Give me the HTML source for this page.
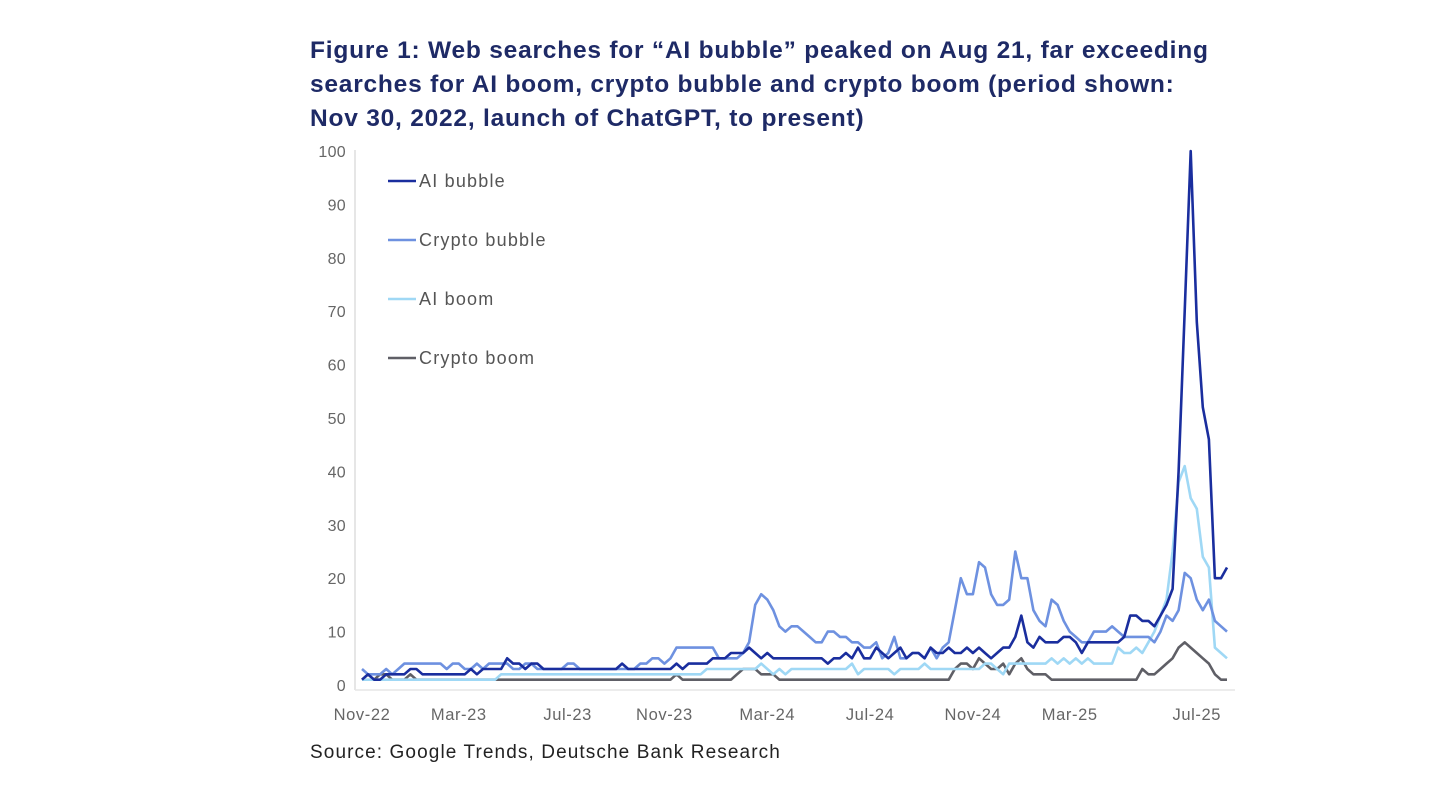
<!DOCTYPE html>
<html><head><meta charset="utf-8">
<style>
body{margin:0;background:#fff;width:1440px;height:790px;overflow:hidden;font-family:"Liberation Sans",sans-serif;}
#title{position:absolute;left:310px;top:34px;font-size:24.5px;letter-spacing:0.78px;font-weight:bold;color:#1e2a66;line-height:34px;white-space:nowrap;}
#source{position:absolute;left:310px;top:742px;font-size:19px;letter-spacing:1.1px;color:#222;}
svg{position:absolute;left:0;top:0;}
</style></head><body>
<div id="title">Figure 1: Web searches for “AI bubble” peaked on Aug 21, far exceeding<br>searches for AI boom, crypto bubble and crypto boom (period shown:<br>Nov 30, 2022, launch of ChatGPT, to present)</div>
<div id="source">Source: Google Trends, Deutsche Bank Research</div>
<svg id="chart" width="1440" height="790"></svg>
<script>
const yTicks=[0,10,20,30,40,50,60,70,80,90,100];
const xLabels=["Nov-22","Mar-23","Jul-23","Nov-23","Mar-24","Jul-24","Nov-24","Mar-25","Jul-25"];
const xLabelWeeks=[0,16,34,50,67,84,101,117,138];
const seriesNames=["Crypto boom","AI boom","Crypto bubble","AI bubble"];
const aiBubble=[1,2,1,1,2,2,2,2,3,3,2,2, 2,2,2,2,2,2,3,2,3,3,3,3, 5,4,4,3,4,4,3,3,3,3,3,3, 3,3,3,3,3,3,3,4,3,3,3,3, 3,3,3,3,4,3,4,4,4,4,5,5, 5,6,6,6,7,6,5,6,5,5,5,5, 5,5,5,5,5,4,5,5,6,5,7,5, 5,7,6,5,6,7,5,6,6,5,7,6, 6,7,6,6,7,6,7,6,5,6,7,7, 9,13,8,7,9,8,8,8,9,9,8,6, 8,8,8,8,8,8,9,13,13,12,12,11, 13,15,18,40,70,100,68,52,46,20,20,22];
const cryptoBubble=[3,2,2,2,3,2,3,4,4,4,4,4, 4,4,3,4,4,3,3,4,3,4,4,4, 4,3,3,4,4,3,3,3,3,3,4,4, 3,3,3,3,3,3,3,3,3,3,4,4, 5,5,4,5,7,7,7,7,7,7,7,5, 5,5,5,6,8,15,17,16,14,11,10,11, 11,10,9,8,8,10,10,9,9,8,8,7, 7,8,5,6,9,5,5,6,6,5,7,5, 7,8,14,20,17,17,23,22,17,15,15,16, 25,20,20,14,12,11,16,15,12,10,9,8, 8,10,10,10,11,10,9,9,9,9,9,8, 10,13,12,14,21,20,16,14,16,12,11,10];
const aiBoom=[1,1,1,1,1,1,1,1,1,1,1,1, 1,1,1,1,1,1,1,1,1,1,1,2, 2,2,2,2,2,2,2,2,2,2,2,2, 2,2,2,2,2,2,2,2,2,2,2,2, 2,2,2,2,2,2,2,2,2,3,3,3, 3,3,3,3,3,3,4,3,2,3,2,3, 3,3,3,3,3,3,3,3,3,4,2,3, 3,3,3,3,2,3,3,3,3,4,3,3, 3,3,3,3,3,3,3,4,4,3,2,4, 4,4,4,4,4,4,5,4,5,4,5,4, 5,4,4,4,4,7,6,6,7,6,8,10, 13,16,25,38,41,35,33,24,22,7,6,5];
const cryptoBoom=[1,2,1,2,2,1,1,1,2,1,1,1, 1,1,1,1,1,1,1,1,1,1,1,1, 1,1,1,1,1,1,1,1,1,1,1,1, 1,1,1,1,1,1,1,1,1,1,1,1, 1,1,1,1,2,1,1,1,1,1,1,1, 1,1,2,3,3,3,2,2,2,1,1,1, 1,1,1,1,1,1,1,1,1,1,1,1, 1,1,1,1,1,1,1,1,1,1,1,1, 1,1,3,4,4,3,5,4,3,3,4,2, 4,5,3,2,2,2,1,1,1,1,1,1, 1,1,1,1,1,1,1,1,1,3,2,2, 3,4,5,7,8,7,6,5,4,2,1,1];

const NS="http://www.w3.org/2000/svg";
const svg=document.getElementById('chart');
const x0=362,x1=1227,nWeeks=aiBubble.length;
const xs=i=>x0+i*(x1-x0)/(nWeeks-1);
const ys=v=>685-v*5.34;
function mk(tag,attrs){const e=document.createElementNS(NS,tag);for(const k in attrs)e.setAttribute(k,attrs[k]);svg.appendChild(e);return e;}

const ax=mk('line',{x1:355,y1:150,x2:355,y2:690,stroke:'#ddd','stroke-width':1.5});


const bx=mk('line',{x1:355,y1:690,x2:1235,y2:690,stroke:'#e6e6e6','stroke-width':1.5});



yTicks.forEach(v=>{
 const t=mk('text',{x:346,y:ys(v)+6,'text-anchor':'end','font-size':16,'letter-spacing':0.3,fill:'#666','font-family':'Liberation Sans, sans-serif'});
 t.textContent=v;
 
 
});
xLabels.forEach((l,i)=>{
 const t=mk('text',{x:xs(xLabelWeeks[i]),y:720,'text-anchor':'middle','font-size':16.5,'letter-spacing':0.6,fill:'#666','font-family':'Liberation Sans, sans-serif'});
 t.textContent=l;
 
 
});

const allSeries=[cryptoBoom,aiBoom,cryptoBubble,aiBubble];
const colors=["#5f5f66","#9fd8f5","#6e91e0","#1a2e9e"];
allSeries.forEach((s,k)=>{
 const d=s.map((v,i)=>(i?'L':'M')+xs(i).toFixed(1)+','+ys(v).toFixed(1)).join('');
 const p=mk('path',{d:d,fill:'none',stroke:colors[k],'stroke-width':2.6,'stroke-linejoin':'round'});
 
 
});

const legendOrder=[3,2,1,0];
legendOrder.forEach((k,j)=>{
 const y=181+j*59;
 const l=mk('line',{x1:388,y1:y,x2:416,y2:y,stroke:colors[k],'stroke-width':2.6});
 
 
 const t=mk('text',{x:419,y:y+6,'font-size':18,'letter-spacing':1.2,fill:'#555','font-family':'Liberation Sans, sans-serif'});
 t.textContent=seriesNames[k];
 
 
});
</script>
</body></html>
